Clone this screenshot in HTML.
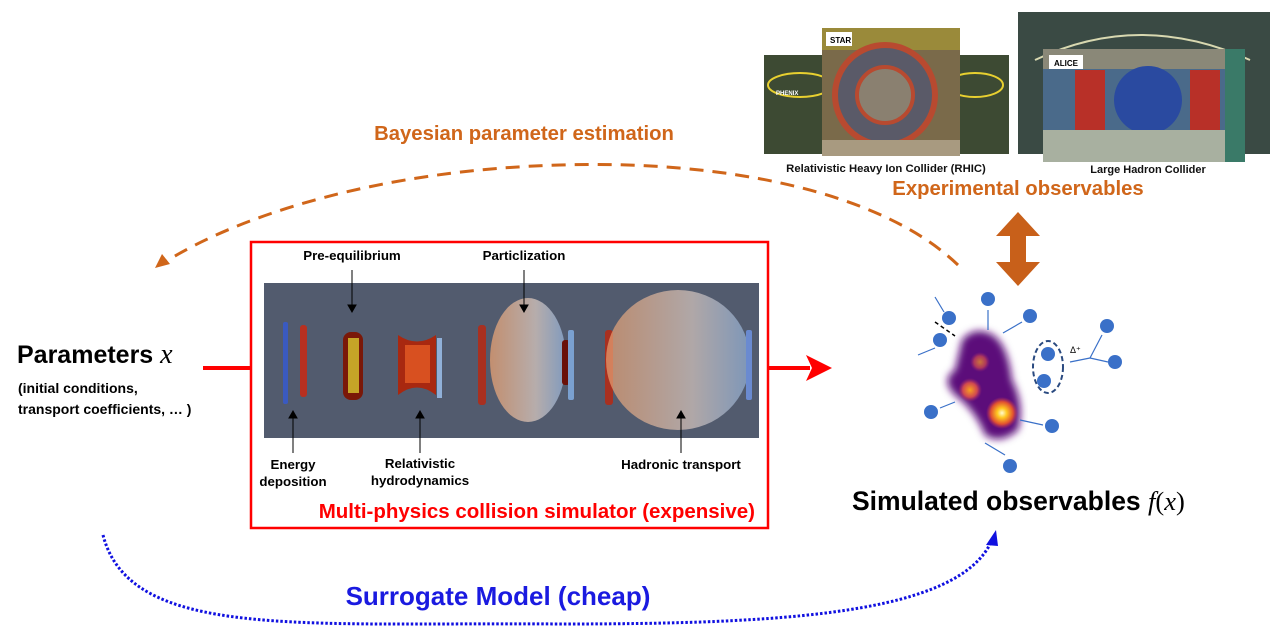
<!DOCTYPE html>
<html><head><meta charset="utf-8"><style>
html,body{margin:0;padding:0;background:#fff;}
body{width:1280px;height:632px;overflow:hidden;position:relative;font-family:"Liberation Sans",sans-serif;}
svg{position:absolute;left:0;top:0;}
</style></head><body>
<svg width="1280" height="632" viewBox="0 0 1280 632" xmlns="http://www.w3.org/2000/svg" font-family="Liberation Sans, sans-serif">
<defs>
<radialGradient id="hot" cx="50%" cy="50%" r="50%">
<stop offset="0" stop-color="#fffbd0"/><stop offset="0.3" stop-color="#ffc820"/><stop offset="0.7" stop-color="#e05030"/><stop offset="1" stop-color="#c03060" stop-opacity="0"/>
</radialGradient>
<radialGradient id="warm" cx="50%" cy="50%" r="50%">
<stop offset="0" stop-color="#f8a020"/><stop offset="0.6" stop-color="#d04850"/><stop offset="1" stop-color="#a02870" stop-opacity="0"/>
</radialGradient>
<linearGradient id="parts" x1="0" x2="1">
<stop offset="0" stop-color="#e8a070"/><stop offset="0.6" stop-color="#d8c8c0"/><stop offset="1" stop-color="#90b0d8"/>
</linearGradient>
<filter id="blur"><feGaussianBlur stdDeviation="4"/></filter>
</defs>

<!-- Photos -->
<rect x="764" y="55" width="245" height="99" fill="#3d4a33"/>
<ellipse cx="800" cy="85" rx="32" ry="12" fill="none" stroke="#e8d030" stroke-width="2"/>
<ellipse cx="975" cy="85" rx="28" ry="12" fill="none" stroke="#e8d030" stroke-width="2"/>
<text x="776" y="95" font-size="6" fill="#fff" font-weight="bold">PHENIX</text>
<rect x="822" y="28" width="138" height="128" fill="#7a6a4a"/>
<rect x="822" y="28" width="138" height="22" fill="#9a8a3a"/>
<circle cx="885" cy="95" r="50" fill="#5a5a68" stroke="#b84a30" stroke-width="6"/>
<circle cx="885" cy="95" r="28" fill="#8a8070" stroke="#b84a30" stroke-width="4"/>
<rect x="822" y="140" width="138" height="16" fill="#a89a80"/>
<rect x="826" y="32" width="26" height="14" fill="#fff"/>
<text x="830" y="43" font-size="8" font-weight="bold" fill="#000">STAR</text>
<rect x="1018" y="12" width="252" height="142" fill="#3a4a44"/>
<path d="M1035 60 Q1140 10 1250 60" fill="none" stroke="#d8d8b0" stroke-width="2"/>
<rect x="1043" y="49" width="202" height="113" fill="#4a6a8a"/>
<rect x="1043" y="49" width="202" height="20" fill="#8a8878"/>
<rect x="1075" y="70" width="30" height="70" fill="#b83028"/>
<rect x="1190" y="70" width="30" height="70" fill="#b83028"/>
<circle cx="1148" cy="100" r="34" fill="#2a4aa0"/>
<rect x="1043" y="130" width="202" height="32" fill="#a8b0a0"/>
<rect x="1225" y="49" width="20" height="113" fill="#3a7a68"/>
<rect x="1049" y="55" width="34" height="14" fill="#fff"/>
<text x="1054" y="66" font-size="8" font-weight="bold" fill="#000">ALICE</text>
<text x="886" y="172" font-size="11.3" font-weight="bold" text-anchor="middle" fill="#111">Relativistic Heavy Ion Collider (RHIC)</text>
<text x="1148" y="173" font-size="11" font-weight="bold" text-anchor="middle" fill="#111">Large Hadron Collider</text>
<text x="1018" y="195" font-size="20.3" font-weight="bold" text-anchor="middle" fill="#d0661a">Experimental observables</text>

<!-- Bayesian -->
<text x="524" y="140" font-size="20.3" font-weight="bold" text-anchor="middle" fill="#d0661a">Bayesian parameter estimation</text>
<path d="M958 265 C 880 190, 720 160, 560 165 C 380 170, 240 215, 165 262" fill="none" stroke="#d0661a" stroke-width="3" stroke-dasharray="14 9"/>
<polygon points="155,268 162,254 170,264" fill="#d0661a"/>

<!-- double arrow -->
<polygon points="1018,212 1040,236 1026,236 1026,262 1040,262 1018,286 996,262 1010,262 1010,236 996,236" fill="#c8601a"/>

<!-- Parameters -->
<text x="17" y="363" font-size="25" font-weight="bold" fill="#000">Parameters <tspan font-family="Liberation Serif, serif" font-style="italic" font-weight="normal" font-size="28">x</tspan></text>
<text x="18" y="393" font-size="14" font-weight="bold" fill="#000">(initial conditions,</text>
<text x="18" y="414" font-size="14" font-weight="bold" fill="#000">transport coefficients, … )</text>

<!-- red arrows -->
<line x1="203" y1="368" x2="251" y2="368" stroke="#f00" stroke-width="4"/>
<line x1="768" y1="368" x2="810" y2="368" stroke="#f00" stroke-width="4"/>
<polygon points="832,368 806,355 812,368 806,381" fill="#f00"/>

<!-- red box -->
<rect x="251" y="242" width="517" height="286" fill="#fff" stroke="#f00" stroke-width="2.5"/>
<rect x="264" y="283" width="495" height="155" fill="#525b6e"/>
<rect x="283" y="322" width="5" height="82" rx="2" fill="#3a5ac0"/>
<rect x="300" y="325" width="7" height="72" rx="3" fill="#b83020"/>
<rect x="343" y="332" width="20" height="68" rx="8" fill="#7a1808"/>
<rect x="348" y="338" width="11" height="55" fill="#d8c830" opacity="0.8"/>
<path d="M398 335 Q417 348 436 335 L436 395 Q417 380 398 395 Z" fill="#a82810"/>
<rect x="405" y="345" width="25" height="38" fill="#d85020"/>
<rect x="437" y="338" width="5" height="60" fill="#90b0d8"/>
<rect x="478" y="325" width="8" height="80" rx="3" fill="#a83020"/>
<ellipse cx="528" cy="360" rx="38" ry="62" fill="url(#parts)" opacity="0.75"/>
<rect x="562" y="340" width="8" height="45" rx="3" fill="#6a1008"/>
<rect x="568" y="330" width="6" height="70" rx="2" fill="#7aa0d0"/>
<rect x="605" y="330" width="8" height="75" rx="3" fill="#a83020"/>
<ellipse cx="678" cy="360" rx="72" ry="70" fill="url(#parts)" opacity="0.7"/>
<rect x="746" y="330" width="6" height="70" rx="2" fill="#6a8ad0"/>
<g stroke="#000" stroke-width="1" fill="#000">
<line x1="352" y1="270" x2="352" y2="305"/><polygon points="348,305 356,305 352,312"/>
<line x1="524" y1="270" x2="524" y2="305"/><polygon points="520,305 528,305 524,312"/>
<line x1="293" y1="453" x2="293" y2="418"/><polygon points="289,418 297,418 293,411"/>
<line x1="420" y1="453" x2="420" y2="418"/><polygon points="416,418 424,418 420,411"/>
<line x1="681" y1="453" x2="681" y2="418"/><polygon points="677,418 685,418 681,411"/>
</g>
<g font-size="13.3" font-weight="bold" fill="#000" text-anchor="middle">
<text x="352" y="260">Pre-equilibrium</text>
<text x="524" y="260">Particlization</text>
<text x="293" y="469">Energy</text><text x="293" y="486">deposition</text>
<text x="420" y="468">Relativistic</text><text x="420" y="485">hydrodynamics</text>
<text x="681" y="469">Hadronic transport</text>
</g>
<text x="755" y="518" font-size="20.5" font-weight="bold" text-anchor="end" fill="#f00">Multi-physics collision simulator (expensive)</text>

<!-- fireball -->
<g filter="url(#blur)">
<path d="M962 340 Q975 325 993 335 Q1008 345 1012 380 Q1025 405 1018 430 Q1000 445 985 435 Q975 410 955 395 Q940 380 955 370 Z" fill="#5c0e7a"/>
</g>
<circle cx="1002" cy="413" r="16" fill="url(#hot)"/>
<circle cx="970" cy="390" r="12" fill="url(#warm)"/>
<circle cx="980" cy="362" r="10" fill="url(#warm)" opacity="0.7"/>
<g fill="#3a70c8">
<circle cx="988" cy="299" r="7"/><circle cx="1030" cy="316" r="7"/><circle cx="949" cy="318" r="7"/>
<circle cx="940" cy="340" r="7"/><circle cx="1048" cy="354" r="7"/><circle cx="1044" cy="381" r="7"/>
<circle cx="931" cy="412" r="7"/><circle cx="1052" cy="426" r="7"/><circle cx="1010" cy="466" r="7"/>
<circle cx="1107" cy="326" r="7"/><circle cx="1115" cy="362" r="7"/>
</g>
<ellipse cx="1048" cy="367" rx="15" ry="26" fill="none" stroke="#2a4a80" stroke-width="2" stroke-dasharray="5 3"/>
<text x="1070" y="353" font-size="9" fill="#000">Δ⁺</text>
<g stroke="#3a70c8" stroke-width="1.2" fill="none">
<line x1="988" y1="330" x2="988" y2="310"/><line x1="1003" y1="333" x2="1022" y2="322"/>
<line x1="944" y1="312" x2="935" y2="297"/><line x1="935" y1="348" x2="918" y2="355"/>
<line x1="985" y1="443" x2="1005" y2="455"/><line x1="1020" y1="420" x2="1043" y2="425"/>
<line x1="955" y1="402" x2="940" y2="408"/><line x1="1070" y1="362" x2="1090" y2="358"/>
<line x1="1090" y1="358" x2="1102" y2="335"/><line x1="1090" y1="358" x2="1108" y2="362"/>
</g>
<line x1="935" y1="322" x2="955" y2="336" stroke="#000" stroke-width="1.5" stroke-dasharray="4 3"/>

<text x="852" y="510" font-size="26.5" font-weight="bold" fill="#000">Simulated observables <tspan font-family="Liberation Serif, serif" font-style="italic" font-weight="normal">f</tspan><tspan font-family="Liberation Serif, serif" font-weight="normal">(</tspan><tspan font-family="Liberation Serif, serif" font-style="italic" font-weight="normal">x</tspan><tspan font-family="Liberation Serif, serif" font-weight="normal">)</tspan></text>

<!-- surrogate -->
<path d="M103 535 C 130 640, 300 622, 560 624 C 780 624, 960 615, 992 540" fill="none" stroke="#1010e0" stroke-width="3" stroke-dasharray="2.5 2"/>
<polygon points="996,530 986,545 998,546" fill="#1010e0"/>
<text x="498" y="605" font-size="26" font-weight="bold" text-anchor="middle" fill="#1a1ae0">Surrogate Model (cheap)</text>
</svg>
</body></html>
